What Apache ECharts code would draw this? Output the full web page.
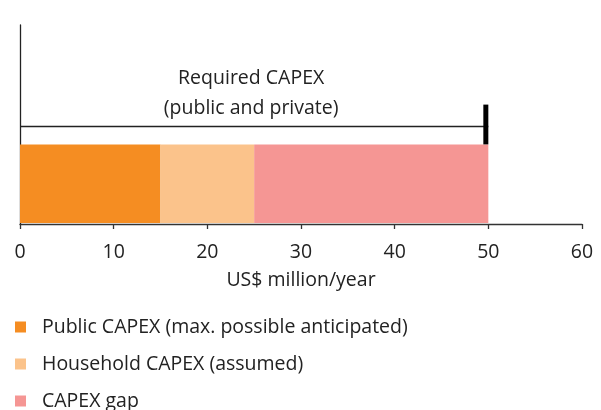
<!DOCTYPE html>
<html><head><meta charset="utf-8">
<script src="https://cdn.jsdelivr.net/npm/echarts@6/dist/echarts.min.js"></script>
<style>html,body{margin:0;padding:0;background:#fff}#c{width:601px;height:410px}</style>
</head><body><div id="c"></div>
<script>
const seriesNames = ['Public CAPEX (max. possible anticipated)', 'Household CAPEX (assumed)', 'CAPEX gap'];
const seriesValues = [15, 10, 25];
const seriesColors = ['#F58D22', '#FBC38B', '#F59694'];
const requiredValue = 50;
const requiredLabel = ['Required CAPEX', '(public and private)'];
const xTicks = [0, 10, 20, 30, 40, 50, 60];
const xName = 'US$ million/year';

const FONT = '"Open Sans", "Noto Sans", sans-serif';
const FS = 19.5;
const BAR_BOTTOM = 0, BAR_TOP = 4, BRACKET_Y = 4.9, MARK_TOP = 6;

const chart = echarts.init(document.getElementById('c'), null, {renderer: 'canvas'});

let cum = 0;
const series = seriesNames.map((name, i) => {
  const start = cum; cum += seriesValues[i];
  return {
    name, type: 'custom', color: seriesColors[i],
    data: [[start, cum]],
    renderItem: (params, api) => {
      const p0 = api.coord([api.value(0), BAR_TOP]);
      const p1 = api.coord([api.value(1), BAR_BOTTOM]);
      return {type: 'rect', shape: {x: p0[0], y: p0[1], width: p1[0] - p0[0], height: p1[1] - p0[1] - 1},
        style: {fill: seriesColors[i]}};
    }
  };
});

series.push({
  name: 'required', type: 'custom', silent: true,
  data: [[requiredValue]],
  renderItem: (params, api) => {
    const end = api.value(0);
    const a = api.coord([0, BRACKET_Y]);
    const b = api.coord([end, BRACKET_Y]);
    const t = api.coord([end, MARK_TOP]);
    const bt = api.coord([end, BAR_TOP]);
    const mid = api.coord([end / 2, BRACKET_Y]);
    return {type: 'group', children: [
      {type: 'line', shape: {x1: a[0], y1: a[1], x2: b[0], y2: b[1]}, style: {stroke: '#222', lineWidth: 1.3}},
      {type: 'rect', shape: {x: t[0] - 5, y: t[1], width: 5, height: bt[1] - t[1]}, style: {fill: '#000'}},
      {type: 'text', x: mid[0] - 3, y: mid[1] - 3, style: {text: requiredLabel.join('\n'), fill: '#222',
        font: FS + 'px ' + FONT, align: 'center', verticalAlign: 'bottom', lineHeight: 30}}
    ]};
  }
});

chart.setOption({
  animation: false,
  grid: {left: 20, right: 19, top: 25, bottom: 186, containLabel: false},
  xAxis: {
    type: 'value', min: xTicks[0], max: xTicks[xTicks.length - 1], interval: 10,
    name: xName, nameLocation: 'middle', nameGap: 46,
    nameTextStyle: {color: '#222', fontSize: FS, fontFamily: FONT},
    axisLine: {show: true, lineStyle: {color: '#333', width: 1.3}},
    axisTick: {show: true, length: 5, inside: false, lineStyle: {color: '#333', width: 1.3}},
    axisLabel: {color: '#222', fontSize: FS, fontFamily: FONT, margin: 18},
    splitLine: {show: false}
  },
  yAxis: {
    type: 'value', min: 0, max: 10,
    axisLine: {show: true, lineStyle: {color: '#222', width: 1.3}},
    axisTick: {show: false}, axisLabel: {show: false}, splitLine: {show: false}
  },
  legend: {
    data: seriesNames, orient: 'vertical', left: 10, top: 312, height: 130, itemGap: 17,
    itemWidth: 11, itemHeight: 11, icon: 'rect',
    textStyle: {color: '#222', fontSize: FS, fontFamily: FONT, padding: [0, 0, 0, 11]},
    selectedMode: false
  },
  series
});
</script></body></html>
